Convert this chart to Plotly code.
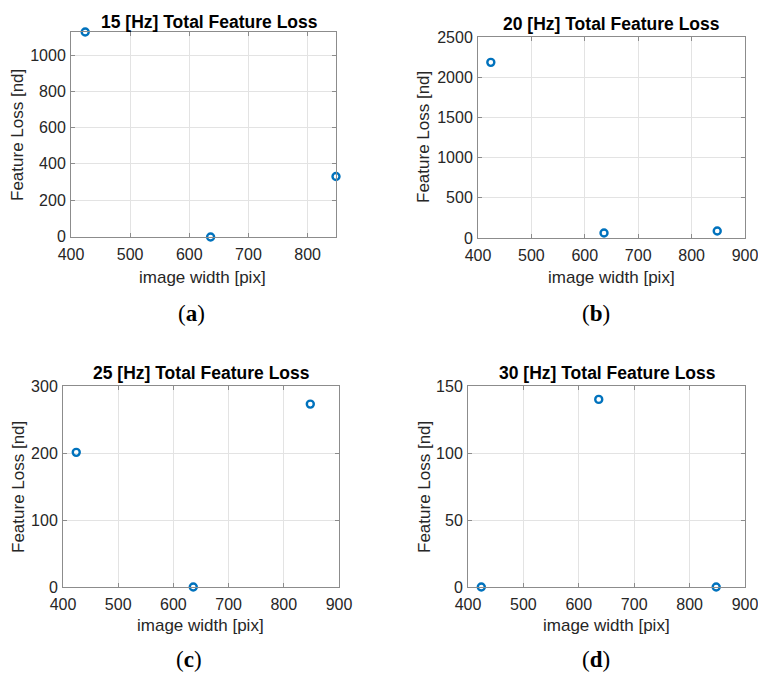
import plotly.graph_objects as go

W, H = 758, 673

image_width = [424, 636, 848]
loss_15hz = [1127, -4, 330]
loss_20hz = [2185, 62, 87]
loss_25hz = [201, 0, 273]
loss_30hz = [0, 140, 0]

titles = ["15 [Hz] Total Feature Loss", "20 [Hz] Total Feature Loss",
          "25 [Hz] Total Feature Loss", "30 [Hz] Total Feature Loss"]
panel_labels = ["a", "b", "c", "d"]
x_ranges = [[400, 848], [400, 900], [400, 900], [400, 900]]
y_ranges = [[-4, 1127], [0, 2500], [0, 300], [0, 150]]
y_dticks = [200, 500, 100, 50]
x_ticks = [400, 500, 600, 700, 800, 900]

# plot boxes in window pixels: left, right, top, bottom
boxes = [(71, 336, 32, 237), (478, 745, 37, 238), (63, 339, 386, 587), (468, 745, 386, 587)]
title_pos = [(209, 22), (611, 24), (201, 373), (607, 373)]
ylab_pos = [(18, 135), (424, 137), (18, 487), (424, 487)]
xlab_pos = [(202, 277), (611, 277), (200, 625), (606, 625)]
sub_pos = [(191, 313), (596, 313), (189, 659), (596, 659)]

series = [loss_15hz, loss_20hz, loss_25hz, loss_30hz]


def px(x):
    return x / W


def py(y):
    return 1 - y / H


fig = go.Figure()
txt = "#262626"
axcol = "#8c8c8c"
font = "Liberation Sans, Arial, sans-serif"

layout = dict(width=W, height=H, margin=dict(l=0, r=0, t=0, b=0, pad=0, autoexpand=False),
              autosize=False, hovermode=False,
              paper_bgcolor="white", plot_bgcolor="white", showlegend=False)
annotations = []
for i in range(4):
    n = "" if i == 0 else str(i + 1)
    l, r, t, b = boxes[i]
    fig.add_trace(go.Scatter(
        x=image_width, y=series[i], mode="markers", cliponaxis=False,
        xaxis="x" + n, yaxis="y" + n,
        marker=dict(symbol="circle-open", size=7, color="#0072BD",
                    line=dict(width=2.4, color="#0072BD"))))
    layout["xaxis" + n] = dict(
        domain=[px(l), px(r)], anchor="y" + n, range=x_ranges[i], automargin=False,
        tickmode="array", tickvals=[v for v in x_ticks if x_ranges[i][0] <= v <= x_ranges[i][1]],
        showgrid=True, gridcolor="#e3e3e3", gridwidth=1, zeroline=False,
        showline=True, linecolor=axcol, linewidth=1, mirror="ticks",
        ticks="inside", ticklen=4, tickcolor=axcol, ticklabelstandoff=3,
        ticklabeloverflow="allow",
        tickfont=dict(family=font, size=16, color=txt))
    layout["yaxis" + n] = dict(
        domain=[py(b), py(t)], anchor="x" + n, range=y_ranges[i], automargin=False,
        tick0=0, dtick=y_dticks[i],
        showgrid=True, gridcolor="#e3e3e3", gridwidth=1, zeroline=False,
        showline=True, linecolor=axcol, linewidth=1, mirror="ticks",
        ticks="inside", ticklen=4, tickcolor=axcol, ticklabelstandoff=1,
        ticklabeloverflow="allow",
        tickfont=dict(family=font, size=16, color=txt))
    annotations.append(dict(text="<b>" + titles[i] + "</b>", x=px(title_pos[i][0]),
                            y=py(title_pos[i][1]), xref="paper", yref="paper",
                            showarrow=False, xanchor="center", yanchor="middle",
                            font=dict(family=font, size=17.5, color="black")))
    annotations.append(dict(text="Feature Loss [nd]", x=px(ylab_pos[i][0]),
                            y=py(ylab_pos[i][1]), xref="paper", yref="paper",
                            showarrow=False, xanchor="center", yanchor="middle", textangle=-90,
                            font=dict(family=font, size=17, color=txt)))
    annotations.append(dict(text="image width [pix]", x=px(xlab_pos[i][0]),
                            y=py(xlab_pos[i][1]), xref="paper", yref="paper",
                            showarrow=False, xanchor="center", yanchor="middle",
                            font=dict(family=font, size=17, color=txt)))
    annotations.append(dict(text="(<b>" + panel_labels[i] + "</b>)", x=px(sub_pos[i][0]),
                            y=py(sub_pos[i][1]), xref="paper", yref="paper",
                            showarrow=False, xanchor="center", yanchor="middle",
                            font=dict(family="Liberation Serif, serif", size=23, color="black")))

layout["annotations"] = annotations
fig.update_layout(**layout)
fig.write_html("out.html", config={"displayModeBar": False},
               post_script="document.body.style.margin='0';document.body.style.overflow='hidden';")
